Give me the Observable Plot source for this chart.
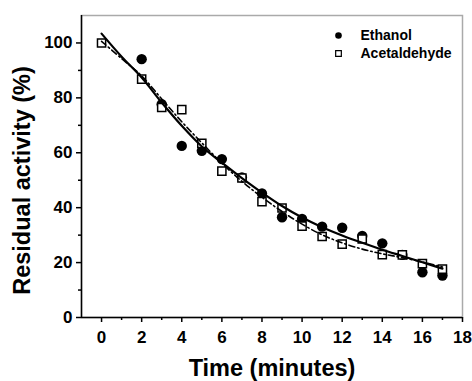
<!DOCTYPE html>
<html><head><meta charset="utf-8">
<script src="https://cdn.jsdelivr.net/npm/d3@7"></script>
<script src="https://cdn.jsdelivr.net/npm/@observablehq/plot@0.6"></script>
<style>
html,body{margin:0;padding:0;background:#fff;}
</style>
</head><body><div id="chart"></div>
<script>
const ethanolTimes  = [2, 3, 4, 5, 6, 7, 8, 9, 10, 11, 12, 13, 14, 15, 16, 17];
const ethanolValues = [94.1, 77.7, 62.5, 60.7, 57.7, 51.0, 45.2, 36.5, 35.9, 33.1, 32.7, 29.7, 27.0, 22.8, 16.5, 15.3];
const acetTimes  = [0, 2, 3, 4, 5, 6, 7, 8, 9, 10, 11, 12, 13, 14, 15, 16, 17];
const acetValues = [100.0, 86.8, 76.5, 75.7, 63.4, 53.3, 50.8, 42.2, 39.9, 33.3, 29.5, 26.7, 28.6, 22.9, 22.8, 19.6, 17.6];

// Fitted curves
const fitTimes   = [0, 1, 2, 3, 4, 5, 6, 7, 8, 9, 10, 11, 12, 13, 14, 15, 16, 17];
const ethanolFit = [103.4, 95.0, 87.4, 78.3, 69.8, 62.3, 56.4, 50.8, 45.5, 40.6, 36.4, 32.9, 29.9, 27.2, 24.7, 22.4, 20.1, 17.8];
const acetFit    = [100.6, 94.3, 88.0, 79.6, 71.3, 63.6, 56.2, 49.6, 43.8, 38.6, 34.0, 30.1, 27.2, 24.9, 23.2, 21.8, 20.2, 18.4];

// Axes / labels
const xTicks = [0, 2, 4, 6, 8, 10, 12, 14, 16, 18];
const xMinor = [1, 3, 5, 7, 9, 11, 13, 15, 17];
const yTicks = [0, 20, 40, 60, 80, 100];
const yMinor = [10, 30, 50, 70, 90];
const legendLabels = ["Ethanol", "Acetaldehyde"];
const xTitle = "Time (minutes)";
const yTitle = "Residual activity (%)";

const ethanol = ethanolTimes.map((t, i) => ({t, v: ethanolValues[i]}));
const acet = acetTimes.map((t, i) => ({t, v: acetValues[i]}));
const fitE = fitTimes.map((t, i) => ({t, v: ethanolFit[i]}));
const fitA = fitTimes.map((t, i) => ({t, v: acetFit[i]}));

const font = "'Liberation Sans', Arial, Helvetica, sans-serif";

const chart = Plot.plot({
  width: 472,
  height: 381,
  marginLeft: 81,
  marginRight: 10,
  marginTop: 15,
  marginBottom: 64,
  style: {fontFamily: font, fontWeight: "bold", fontSize: "17px", color: "#000", background: "#fff"},
  x: {domain: [-1, 18]},
  y: {domain: [0, 110]},
  marks: [
    Plot.frame({stroke: "#aaa", strokeWidth: 1.5}),
    Plot.axisX({ticks: xTicks, tickSize: 5, tickPadding: 8, label: null, strokeWidth: 1.5, fontWeight: "bold"}),
    Plot.axisX({ticks: xMinor, tickSize: 3, text: null, label: null, strokeWidth: 1.5}),
    Plot.axisY({ticks: yTicks, tickSize: 5, tickPadding: 4, label: null, strokeWidth: 1.5, fontWeight: "bold"}),
    Plot.axisY({ticks: yMinor, tickSize: 3, text: null, label: null, strokeWidth: 1.5}),
    Plot.ruleX([-1], {stroke: "#000", strokeWidth: 1.5}),
    Plot.ruleY([0], {stroke: "#000", strokeWidth: 1.5}),
    Plot.dot(ethanol, {x: "t", y: "v", r: 5.2, fill: "#000", symbol: "circle"}),
    Plot.dot(acet, {x: "t", y: "v", r: 4.6, symbol: "square", fill: "#fff", stroke: "#000", strokeWidth: 1.5}),
    Plot.line(fitE, {x: "t", y: "v", curve: "catmull-rom", stroke: "#000", strokeWidth: 2.2}),
    Plot.line(fitA, {x: "t", y: "v", curve: "catmull-rom", stroke: "#000", strokeWidth: 1.6, strokeDasharray: "6,3,1.5,3"}),
    // legend
    Plot.dot([legendLabels[0]], {frameAnchor: "top-right", dx: -124, dy: 20, r: 3.3, fill: "#000", symbol: "circle"}),
    Plot.dot([legendLabels[1]], {frameAnchor: "top-right", dx: -124, dy: 38, r: 3.2, symbol: "square", fill: "#fff", stroke: "#000", strokeWidth: 1.2}),
    Plot.text([legendLabels[0]], {text: d => d, frameAnchor: "top-right", dx: -102, dy: 20, textAnchor: "start", lineAnchor: "middle", fontSize: 14, fontWeight: "bold", fill: "#000"}),
    Plot.text([legendLabels[1]], {text: d => d, frameAnchor: "top-right", dx: -102, dy: 38, textAnchor: "start", lineAnchor: "middle", fontSize: 14, fontWeight: "bold", fill: "#000"}),
    // axis titles
    Plot.text([xTitle], {text: d => d, frameAnchor: "bottom", dy: 51, textAnchor: "middle", lineAnchor: "middle", fontSize: 23.5, fontWeight: "bold", fill: "#000"}),
    Plot.text([yTitle], {text: d => d, frameAnchor: "left", dx: -59, dy: 14, rotate: -90, textAnchor: "middle", lineAnchor: "middle", fontSize: 23.5, fontWeight: "bold", fill: "#000"})
  ]
});
document.getElementById("chart").appendChild(chart);
</script>
</body></html>
